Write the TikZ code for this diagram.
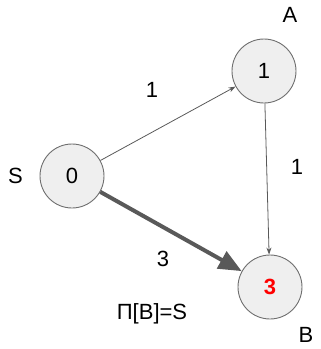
\documentclass[tikz,border=0pt]{standalone}
\usepackage{fontspec}
\setmainfont{Liberation Sans}
\usetikzlibrary{arrows.meta}
\definecolor{nodefill}{HTML}{EFEFEF}
\definecolor{nodeline}{HTML}{6E6E6E}
\definecolor{edgecol}{HTML}{595959}
\tikzset{
  vertex/.style={circle, draw=nodeline, fill=nodefill, line width=0.9pt, minimum size=64pt, inner sep=0pt, font=\fontsize{22}{26}\selectfont},
  lbl/.style={inner sep=0pt, font=\fontsize{22}{26}\selectfont},
  thinedge/.style={draw=edgecol, line width=0.8pt, -{Stealth[length=7pt, width=5pt]}},
  thickedge/.style={draw=edgecol, line width=4pt, -{Triangle[length=23pt, width=19pt]}}
}
\begin{document}
\begin{tikzpicture}[x=1pt, y=-1pt]
\useasboundingbox (0,0) rectangle (321,349);
\node[vertex] (s) at (72,176) {0};
\node[vertex] (a) at (264,71) {1};
\node[vertex] (b) at (270,287) {\textcolor{red}{\bfseries 3}};
\node[lbl] (ls) at (15.5,176) {S};
\node[lbl] (la) at (290,15) {A};
\node[lbl] (lb) at (306,335) {B};
\node[lbl] (wsa) at (152,90) {1};
\node[lbl] (wab) at (297,167) {1};
\node[lbl] (wsb) at (163,259) {3};
\node[lbl] (pi) at (152,314) {Π[B]=S};
\draw[thinedge] (s) -- (a);
\draw[thinedge] (a) -- (b);
\draw[thickedge] (s) -- (b);
\end{tikzpicture}
\end{document}
